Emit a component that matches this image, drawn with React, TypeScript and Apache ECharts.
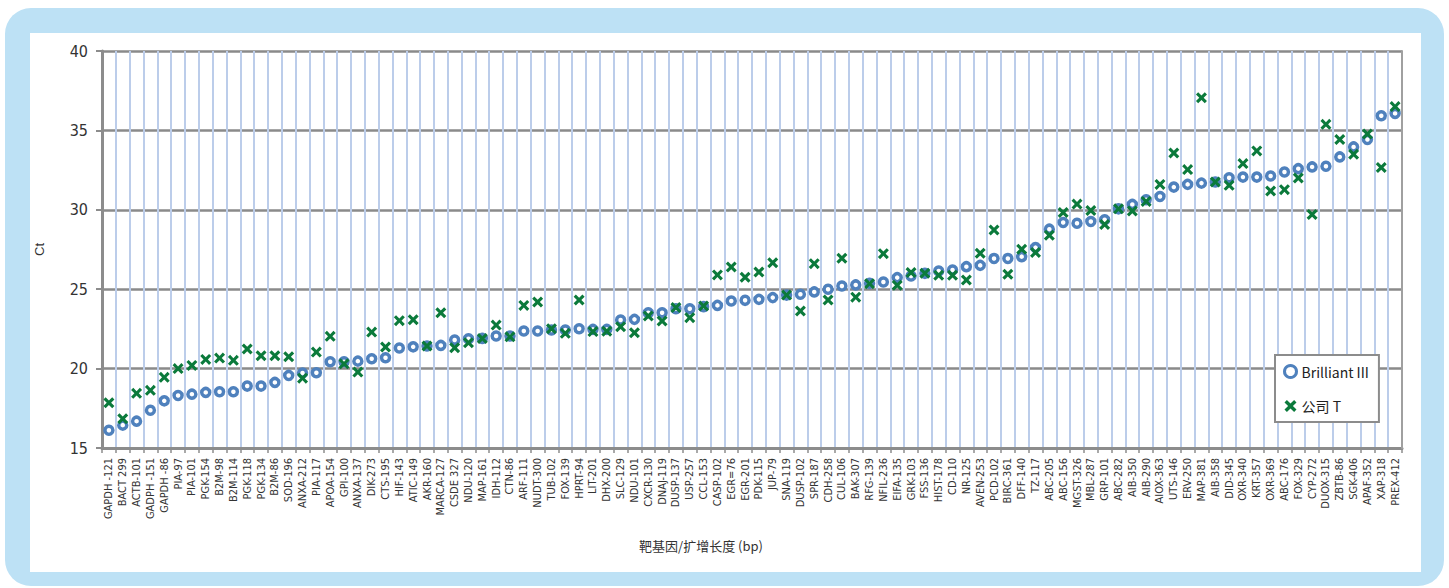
import React, { useEffect, useRef } from "react";
import * as echarts from "echarts";

const categories = [
  "GAPDH -121", "BACT 299", "ACTB-101", "GADPH -151", "GAPDH -86", "PIA-97", "PIA-101", "PGK-154", "B2M-98", "B2M-114",
  "PGK-118", "PGK-134", "B2M-86", "SOD-196", "ANXA-212", "PIA-117", "APOA-154", "GPI-100", "ANXA-137", "DIK-273",
  "CTS-195", "HIF-143", "ATIC-149", "AKR-160", "MARCA-127", "CSDE 327", "NDU-120", "MAP-161", "IDH-112", "CTN-86",
  "ARF-111", "NUDT-300", "TUB-102", "FOX-139", "HPRT-94", "LIT-201", "DHX-200", "SLC-129", "NDU-101", "CXCR-130",
  "DNAJ-119", "DUSP-137", "USP-257", "CCL-153", "CASP-102", "EGR=76", "EGR-201", "PDK-115", "JUP-79", "SNA-119",
  "DUSP-102", "SPR-187", "CDH-258", "CUL-106", "BAK-307", "RFG-139", "NFIL-236", "EIFA-135", "GRK-103", "FSS-136",
  "HIST-178", "CD-110", "NR-125", "AVEN-253", "PCD-102", "BIRC-361", "DFF-140", "TZ-117", "ABC-205", "ABC-156",
  "MGST-326", "MBL-287", "GRP-101", "ABC-282", "AIB-350", "AIB-290", "AIOX-363", "UTS-146", "ERV-250", "MAP-381",
  "AIB-358", "DID-345", "OXR-340", "KRT-357", "OXR-369", "ABC-176", "FOX-329", "CYP-272", "DUOX-315", "ZBTB-86",
  "SGK-406", "APAF-352", "XAP-318", "PREX-412",
];

const brilliantIII = [
  16.12, 16.44, 16.69, 17.38, 17.97, 18.31, 18.39, 18.5, 18.54, 18.54,
  18.9, 18.9, 19.13, 19.57, 19.72, 19.74, 20.43, 20.43, 20.47, 20.62,
  20.68, 21.3, 21.37, 21.42, 21.46, 21.8, 21.88, 21.9, 22.05, 22.05,
  22.37, 22.37, 22.43, 22.43, 22.51, 22.47, 22.47, 23.06, 23.1, 23.52,
  23.52, 23.77, 23.77, 23.9, 23.98, 24.26, 24.3, 24.36, 24.47, 24.63,
  24.68, 24.83, 25.0, 25.2, 25.27, 25.37, 25.45, 25.73, 25.83, 26.0,
  26.15, 26.21, 26.42, 26.5, 26.93, 26.93, 27.05, 27.62, 28.78, 29.2,
  29.15, 29.26, 29.37, 30.06, 30.34, 30.63, 30.84, 31.43, 31.6, 31.68,
  31.75, 32.02, 32.06, 32.06, 32.13, 32.38, 32.59, 32.7, 32.74, 33.33,
  33.96, 34.43, 35.92, 36.07,
];

const companyT = [
  17.85, 16.84, 18.44, 18.63, 19.45, 20.0, 20.2, 20.58, 20.66, 20.52,
  21.23, 20.81, 20.81, 20.75, 19.4, 21.04, 22.03, 20.3, 19.78, 22.3,
  21.36, 23.02, 23.08, 21.42, 23.52, 21.31, 21.63, 21.9, 22.74, 22.0,
  23.98, 24.19, 22.51, 22.22, 24.32, 22.33, 22.35, 22.64, 22.26, 23.31,
  23.0, 23.84, 23.21, 23.94, 25.9, 26.4, 25.75, 26.08, 26.67, 24.63,
  23.63, 26.61, 24.32, 26.95, 24.5, 25.35, 27.24, 25.25, 26.05, 26.0,
  25.88, 25.88, 25.58, 27.26, 28.73, 25.94, 27.52, 27.31, 28.4, 29.83,
  30.36, 29.96, 29.07, 30.06, 29.92, 30.53, 31.6, 33.58, 32.53, 37.06,
  31.75, 31.54, 32.91, 33.71, 31.18, 31.27, 32.0, 29.7, 35.38, 34.43,
  33.5, 34.77, 32.66, 36.5,
];

const Y_MIN = 15;
const Y_MAX = 40;
const Y_INTERVAL = 5;

const SERIES_NAMES = ["Brilliant III", "公司 T"];
const X_TITLE = "靶基因/扩增长度 (bp)";
const Y_TITLE = "Ct";

const X_PATH = "path://M0,2L2,0L5,3L8,0L10,2L7,5L10,8L8,10L5,7L2,10L0,8L3,5Z";
const NARROW = '"Liberation Sans Narrow", "Arial Narrow", "DejaVu Sans Condensed", sans-serif';
const BLUE = "#4f81bd";
const GREEN = "#0b7a3b";
const AXIS_GRAY = "#8c8c8c";

export default function App() {
  const ref = useRef<HTMLDivElement>(null);
  useEffect(() => {
    const chart = echarts.init(ref.current!, null, { renderer: "svg" });
    chart.setOption({
      animation: false,
      graphic: [
        {
          type: "rect",
          z: -100,
          silent: true,
          shape: { x: 5, y: 8, width: 1439, height: 578, r: 26 },
          style: { fill: "#bde1f5" },
        },
        {
          type: "rect",
          z: -99,
          silent: true,
          shape: { x: 30, y: 33, width: 1391, height: 539 },
          style: { fill: "#ffffff" },
        },
        {
          type: "text",
          z: 10,
          x: 701,
          y: 545,
          style: {
            text: X_TITLE,
            textAlign: "center",
            textVerticalAlign: "middle",
            font: '13px "Noto Sans CJK SC", "Liberation Sans", sans-serif',
            fill: "#333",
          },
        },
      ],
      grid: { left: 102, right: 47, top: 51, bottom: 140 },
      legend: {
        orient: "vertical",
        left: 1275,
        top: 355,
        backgroundColor: "#fff",
        borderColor: AXIS_GRAY,
        borderWidth: 2,
        padding: [9, 10, 9, 8],
        itemGap: 20,
        itemWidth: 12,
        itemHeight: 12,
        textStyle: { fontSize: 14, color: "#222", fontFamily: '"Liberation Sans Narrow", "Noto Sans CJK SC", sans-serif' },
        data: [
          { name: SERIES_NAMES[0], icon: "circle", itemStyle: { color: "#fff", borderColor: BLUE, borderWidth: 3 } },
          { name: SERIES_NAMES[1], icon: X_PATH, itemStyle: { color: GREEN } },
        ],
      },
      xAxis: {
        type: "category",
        data: categories,
        boundaryGap: true,
        z: 1,
        axisLine: { show: true, lineStyle: { color: AXIS_GRAY, width: 3 } },
        axisTick: { show: true, interval: 0, length: 5, lineStyle: { color: AXIS_GRAY, width: 1.5 } },
        axisLabel: { interval: 0, rotate: 90, fontSize: 11, color: "#333", fontFamily: NARROW, margin: 10 },
        splitLine: { show: true, interval: 0, lineStyle: { color: "#bccdea", width: 2 } },
      },
      yAxis: [
        {
          type: "value",
          min: Y_MIN,
          max: Y_MAX,
          interval: Y_INTERVAL,
          z: 0,
          axisLine: { show: false },
          axisTick: { show: false },
          axisLabel: { show: false },
          splitLine: { show: true, lineStyle: { color: "#8a8a8a", width: 2.5 } },
        },
        {
          type: "value",
          position: "left",
          min: Y_MIN,
          max: Y_MAX,
          interval: Y_INTERVAL,
          z: 3,
          name: Y_TITLE,
          nameLocation: "middle",
          nameGap: 56,
          nameTextStyle: { fontSize: 13, color: "#333", fontFamily: '"Liberation Sans", sans-serif' },
          axisLine: { show: true, onZero: false, lineStyle: { color: AXIS_GRAY, width: 3 } },
          axisTick: { show: true, length: 6, lineStyle: { color: AXIS_GRAY, width: 2 } },
          axisLabel: { fontSize: 16, color: "#333", margin: 14, fontFamily: NARROW },
          splitLine: { show: false },
        },
        {
          type: "value",
          position: "right",
          min: Y_MIN,
          max: Y_MAX,
          interval: Y_INTERVAL,
          z: 3,
          axisLine: { show: true, onZero: false, lineStyle: { color: "#a0a0a0", width: 2 } },
          axisTick: { show: false },
          axisLabel: { show: false },
          splitLine: { show: false },
        },
      ],
      series: [
        {
          name: SERIES_NAMES[0],
          type: "scatter",
          yAxisIndex: 0,
          data: brilliantIII,
          symbol: "circle",
          symbolSize: 8,
          itemStyle: { color: "#fff", borderColor: BLUE, borderWidth: 3.5, opacity: 1 },
          z: 3,
        },
        {
          name: SERIES_NAMES[1],
          type: "scatter",
          yAxisIndex: 0,
          data: companyT,
          symbol: X_PATH,
          symbolSize: 11,
          itemStyle: { color: GREEN, opacity: 1 },
          z: 4,
        },
      ],
    });
    return () => chart.dispose();
  }, []);
  return <div ref={ref} style={{ position: "absolute", left: 0, top: 0, width: 1449, height: 588 }} />;
}
